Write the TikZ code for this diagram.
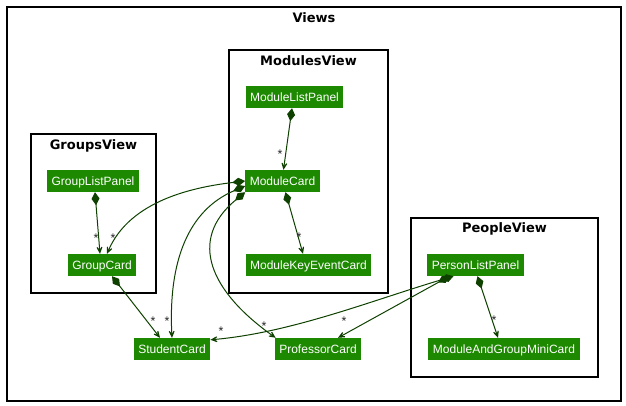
\documentclass[tikz,border=0pt]{standalone}
\usepackage{fontspec}
\setmainfont{Liberation Sans}
\newfontfamily\titlefont{DejaVu Sans}
\usetikzlibrary{arrows.meta}
\definecolor{uigreen}{HTML}{1D8900}
\definecolor{uilink}{HTML}{0E4100}

\begin{document}
\begin{tikzpicture}[x=1pt, y=-1pt,
  card/.style={fill=uigreen, text=white, inner xsep=4.5pt, inner ysep=0pt, minimum height=22pt, text height=11.5pt, text depth=2.5pt, font=\fontsize{12}{14}\selectfont},
  pkg/.style={draw=black, line width=1.2pt},
  pkgname/.style={anchor=base, font=\titlefont\bfseries\fontsize{13}{15}\selectfont},
  comp/.style={draw=uilink, line width=1pt, {Diamond[length=13pt,width=8pt]}-{Stealth[length=11pt,width=10pt,inset=7pt]}},
  mult/.style={inner sep=0pt, text=black!85, font=\fontsize{12.5}{14}\selectfont}]

\useasboundingbox (0,0) rectangle (626,406);

\draw [pkg] (7,7) rectangle (621,401);
\node [pkgname] (viewsname) at (314,23) {Views};

\draw [pkg] (229,50) rectangle (388,293);
\node [pkgname] (modulesname) at (308.5,66) {ModulesView};
\draw [pkg] (31,134) rectangle (156,293);
\node [pkgname] (groupsname) at (93.5,150) {GroupsView};
\draw [pkg] (411,218) rectangle (598,377);
\node [pkgname] (peoplename) at (504.5,233) {PeopleView};

\node [card] (modulelist) at (294.5,97) {ModuleListPanel};
\node [card] (modulecard) at (282.5,181) {ModuleCard};
\node [card] (keyevent) at (308.5,265) {ModuleKeyEventCard};
\node [card] (grouplist) at (93,181) {GroupListPanel};
\node [card] (groupcard) at (102,265) {GroupCard};
\node [card] (personlist) at (475.5,265) {PersonListPanel};
\node [card] (minicard) at (504,349) {ModuleAndGroupMiniCard};
\node [card] (student) at (172,349) {StudentCard};
\node [card] (professor) at (318,349) {ProfessorCard};

% compositions
\draw [comp] ([xshift=-2.5pt]modulelist.south) -- ([xshift=1pt]modulecard.north) node [mult] at (280,154.5) {*};
\draw [comp] ([xshift=3pt]modulecard.south) -- ([xshift=-5.5pt]keyevent.north) node [mult] at (299,237.5) {*};
\draw [comp] ([xshift=2pt]grouplist.south) -- ([xshift=-2pt]groupcard.north) node [mult] at (96,238.5) {*};
\draw [comp] (modulecard.west) .. controls +(-50,6) and +(23,-54) .. ([xshift=5pt]groupcard.north) node [mult] at (113,238.5) {*};
\draw [comp] ([yshift=-5pt]modulecard.west) .. controls +(-56,24) and +(-4,-78) .. (student.north) node [mult] at (167,321.5) {*};
\draw [comp] (modulecard.south west) .. controls +(-58,48) and +(-65,-46) .. ([xshift=1pt]professor.north west) node [mult] at (264,326.5) {*};
\draw [comp] ([xshift=10pt]groupcard.south) -- ([xshift=-12pt]student.north) node [mult] at (153,321.5) {*};
\draw [comp] ([xshift=-22pt]personlist.south) .. controls +(-81,24) and +(81,-7) .. ([yshift=-2pt]student.north east) node [mult] at (221,331.5) {*};
\draw [comp] ([xshift=-26pt]personlist.south) -- ([xshift=20pt]professor.north) node [mult] at (344,321.5) {*};
\draw [comp] ([xshift=2pt]personlist.south) -- ([xshift=-6pt]minicard.north) node [mult] at (494,320.5) {*};

\end{tikzpicture}
\end{document}
